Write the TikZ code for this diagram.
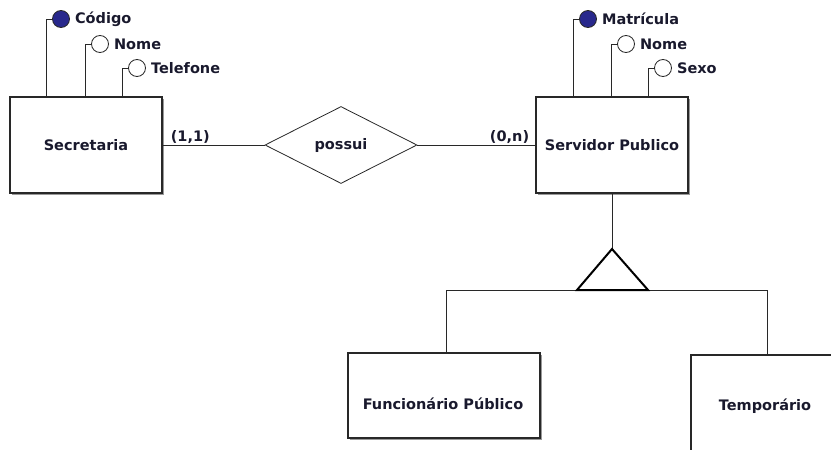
\documentclass[tikz,border=0pt]{standalone}
\usepackage{fontspec}
\setmainfont{DejaVu Sans}
\usetikzlibrary{positioning,calc,shapes.geometric,shadows}

\definecolor{txtcol}{RGB}{25,25,45}
\definecolor{keycol}{RGB}{40,40,140}
\definecolor{linecol}{RGB}{40,40,40}

\tikzset{
  erfont/.style={font=\fontsize{14.5}{17}\selectfont\bfseries, text=txtcol},
  entity/.style={erfont, rectangle, draw=linecol, line width=1.3pt, fill=white,
    minimum width=152pt, minimum height=96pt, inner sep=0pt,
    drop shadow={shadow xshift=1.6pt, shadow yshift=-1.6pt, fill=black!40, opacity=1}},
  relation/.style={erfont, diamond, draw=linecol, line width=0.8pt, fill=white,
    minimum width=152pt, minimum height=77pt, inner sep=0pt},
  attr/.style={circle, draw=linecol, line width=0.8pt, fill=white,
    minimum size=17pt, inner sep=0pt},
  keyattr/.style={attr, fill=keycol},
  attrtext/.style={erfont, inner sep=0pt},
  attrlabel/.style={attrtext, xshift=5pt},
  card/.style={erfont, inner sep=0pt},
  link/.style={draw=linecol, line width=0.8pt},
  isa/.style={draw=black, line width=2pt, line join=miter}
}

\begin{document}
\begin{tikzpicture}[x=1pt,y=1pt]
  \useasboundingbox (0,0) rectangle (831,-450);

  % entidades e relacionamento
  \node[entity] (sec) at (86,-145) {Secretaria};
  \node[relation] (possui) at (341,-145) {possui};
  \node[entity] (srv) at (612,-145) {Servidor Publico};

  % atributos de Secretaria
  \node[keyattr, label={[attrlabel]right:Código}] (sec-cod) at (61,-19) {};
  \node[attr, label={[attrlabel]right:Nome}] (sec-nome) at (100,-44) {};
  \node[attr, label={[attrlabel]right:Telefone}] (sec-tel) at (137,-68) {};
  \draw[link] (sec-cod.west) -| ($(sec.north west)+(37,0)$);
  \draw[link] (sec-nome.west) -| ($(sec.north west)+(76,0)$);
  \draw[link] (sec-tel.west) -| ($(sec.north west)+(113,0)$);

  % atributos de Servidor Publico
  \node[keyattr, label={[attrlabel]right:Matrícula}] (srv-mat) at (588,-19) {};
  \node[attr, label={[attrlabel]right:Nome}] (srv-nome) at (626,-44) {};
  \node[attr, label={[attrlabel]right:Sexo}] (srv-sexo) at (663,-68) {};
  \draw[link] (srv-mat.west) -| ($(srv.north west)+(38,0)$);
  \draw[link] (srv-nome.west) -| ($(srv.north west)+(76,0)$);
  \draw[link] (srv-sexo.west) -| ($(srv.north west)+(113,0)$);

  % ligacoes do relacionamento
  \draw[link] (sec.east) -- (possui.west);
  \draw[link] (possui.east) -- (srv.west);
  \node[card, above right=1pt and 8pt of sec.east, anchor=south west] (card-sec) {(1,1)};
  \node[card, above left=1pt and 6pt of srv.west, anchor=south east] (card-srv) {(0,n)};

  % especializacao
  \node[entity, minimum width=192pt, minimum height=85pt] (func) at (444,-395.5) {};
  \node[attrtext] (func-txt) at (443,-404) {Funcionário Público};
  \node[entity, minimum width=148pt, minimum height=102pt] (temp) at (765,-406) {Temporário};

  \coordinate (isa-top) at (612,-249);
  \coordinate (isa-bl) at (577,-290);
  \coordinate (isa-br) at (648,-290);
  \coordinate (gen-l) at (446,-290);
  \coordinate (gen-r) at (767,-290);

  \draw[link] (srv.south) -- (isa-top);
  \draw[link] (gen-l) -- (gen-r);
  \draw[link] (gen-l) -- (gen-l |- func.north);
  \draw[link] (gen-r) -- (gen-r |- temp.north);
  \draw[isa] (isa-bl) -- (isa-top) -- (isa-br) -- cycle;
\end{tikzpicture}
\end{document}
